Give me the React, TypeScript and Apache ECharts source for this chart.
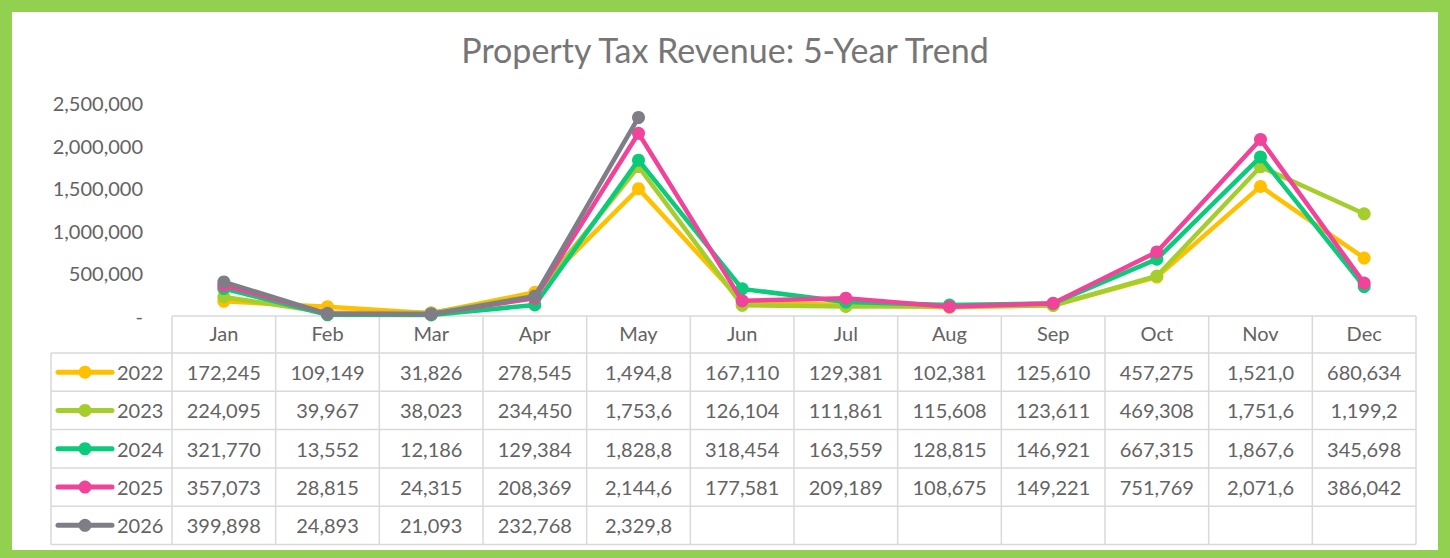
import React, { useEffect, useRef } from "react";
import * as echarts from "echarts";

const months = ["Jan", "Feb", "Mar", "Apr", "May", "Jun", "Jul", "Aug", "Sep", "Oct", "Nov", "Dec"];
const years = ["2022", "2023", "2024", "2025", "2026"];
const colors = ["#FFC000", "#A5CD2B", "#0BCB7A", "#F0439A", "#7F7E86"];
const v2022 = [172245, 109149, 31826, 278545, 1494850, 167110, 129381, 102381, 125610, 457275, 1521050, 680634];
const v2023 = [224095, 39967, 38023, 234450, 1753650, 126104, 111861, 115608, 123611, 469308, 1751650, 1199250];
const v2024 = [321770, 13552, 12186, 129384, 1828850, 318454, 163559, 128815, 146921, 667315, 1867650, 345698];
const v2025 = [357073, 28815, 24315, 208369, 2144650, 177581, 209189, 108675, 149221, 751769, 2071650, 386042];
const v2026 = [399898, 24893, 21093, 232768, 2329850, null, null, null, null, null, null, null];
const seriesValues = [v2022, v2023, v2024, v2025, v2026];
const yMin = 0;
const yMax = 2500000;
const yInterval = 500000;
const title = "Property Tax Revenue: 5-Year Trend";

const W = 1450;
const H = 558;
const FONT = "Lato, 'Open Sans', sans-serif";
const TEXT = "#636363";
const TITLE = "#767676";
const GRIDC = "#D9D9D9";

const fmt = (v: number | null) => (v == null ? "" : v.toLocaleString("en-US").slice(0, 7));

export default function App() {
  const ref = useRef<HTMLDivElement>(null);
  useEffect(() => {
    document.body.style.margin = "0";
    const chart = echarts.init(ref.current!, null, { renderer: "svg" });
    const gLeft = 172;
    const gRight = 1416;
    const gTop = 103;
    const axisY = 316;
    const colW = (gRight - gLeft) / months.length;
    const headerBottom = 353;
    const rowH = 38.3;
    const legendLeft = 51;
    const tableBottom = headerBottom + rowH * years.length;

    const graphics: any[] = [];
    graphics.push({ type: "rect", z: -10, shape: { x: 0, y: 0, width: W, height: H }, style: { fill: "#92D050" } });
    graphics.push({ type: "rect", z: -9, shape: { x: 12, y: 12, width: W - 24, height: H - 20 }, style: { fill: "#FFFFFF" } });
    graphics.push({ type: "line", shape: { x1: gLeft, y1: axisY, x2: gRight, y2: axisY }, style: { stroke: GRIDC, lineWidth: 1.5 } });
    for (let r = 0; r <= years.length; r++) {
      const y = headerBottom + r * rowH;
      graphics.push({ type: "line", shape: { x1: legendLeft, y1: y, x2: gRight, y2: y }, style: { stroke: GRIDC, lineWidth: 1.5 } });
    }
    graphics.push({ type: "line", shape: { x1: legendLeft, y1: headerBottom, x2: legendLeft, y2: tableBottom }, style: { stroke: GRIDC, lineWidth: 1.5 } });
    for (let c = 0; c <= months.length; c++) {
      const x = gLeft + c * colW;
      graphics.push({ type: "line", shape: { x1: x, y1: axisY, x2: x, y2: tableBottom }, style: { stroke: GRIDC, lineWidth: 1.5 } });
    }
    years.forEach((yr, r) => {
      const cy = headerBottom + r * rowH + rowH / 2;
      graphics.push({ type: "line", shape: { x1: 58, y1: cy, x2: 112, y2: cy }, style: { stroke: colors[r], lineWidth: 5, lineCap: "round" } });
      graphics.push({ type: "circle", shape: { cx: 85, cy, r: 6.5 }, style: { fill: colors[r] } });
      graphics.push({ type: "text", x: 117, y: cy, style: { text: yr, fill: TEXT, font: `20px ${FONT}`, textAlign: "left", textVerticalAlign: "middle" } });
      seriesValues[r].forEach((v, c) => {
        const s = fmt(v);
        if (!s) return;
        graphics.push({ type: "text", x: gLeft + c * colW + colW / 2, y: cy, style: { text: s, fill: TEXT, font: `20px ${FONT}`, textAlign: "center", textVerticalAlign: "middle" } });
      });
    });

    chart.setOption({
      animation: false,
      title: {
        text: title,
        left: "center",
        top: 27,
        textStyle: { fontFamily: FONT, fontSize: 34, fontWeight: "normal", color: TITLE },
      },
      grid: { left: gLeft, right: W - gRight, top: gTop, bottom: H - axisY, containLabel: false },
      xAxis: {
        type: "category",
        data: months,
        boundaryGap: true,
        axisLine: { show: false },
        axisTick: { show: false },
        axisLabel: { fontFamily: FONT, fontSize: 20, color: TEXT, margin: 5, lineHeight: 24 },
      },
      yAxis: {
        type: "value",
        min: yMin,
        max: yMax,
        interval: yInterval,
        splitLine: { show: false },
        axisLine: { show: false },
        axisTick: { show: false },
        axisLabel: {
          fontFamily: FONT,
          fontSize: 20,
          color: TEXT,
          margin: 29,
          formatter: (v: number) => (v === 0 ? "-" : v.toLocaleString("en-US")),
        },
      },
      graphic: graphics,
      series: years.map((yr, i) => ({
        name: yr,
        type: "line",
        data: seriesValues[i],
        symbol: "circle",
        symbolSize: 13,
        showSymbol: true,
        connectNulls: false,
        lineStyle: { color: colors[i], width: 4.5 },
        itemStyle: { color: colors[i] },
        z: 3 + i,
      })),
    });
    return () => chart.dispose();
  }, []);
  return <div ref={ref} style={{ position: "absolute", left: 0, top: 0, width: W, height: H }} />;
}
